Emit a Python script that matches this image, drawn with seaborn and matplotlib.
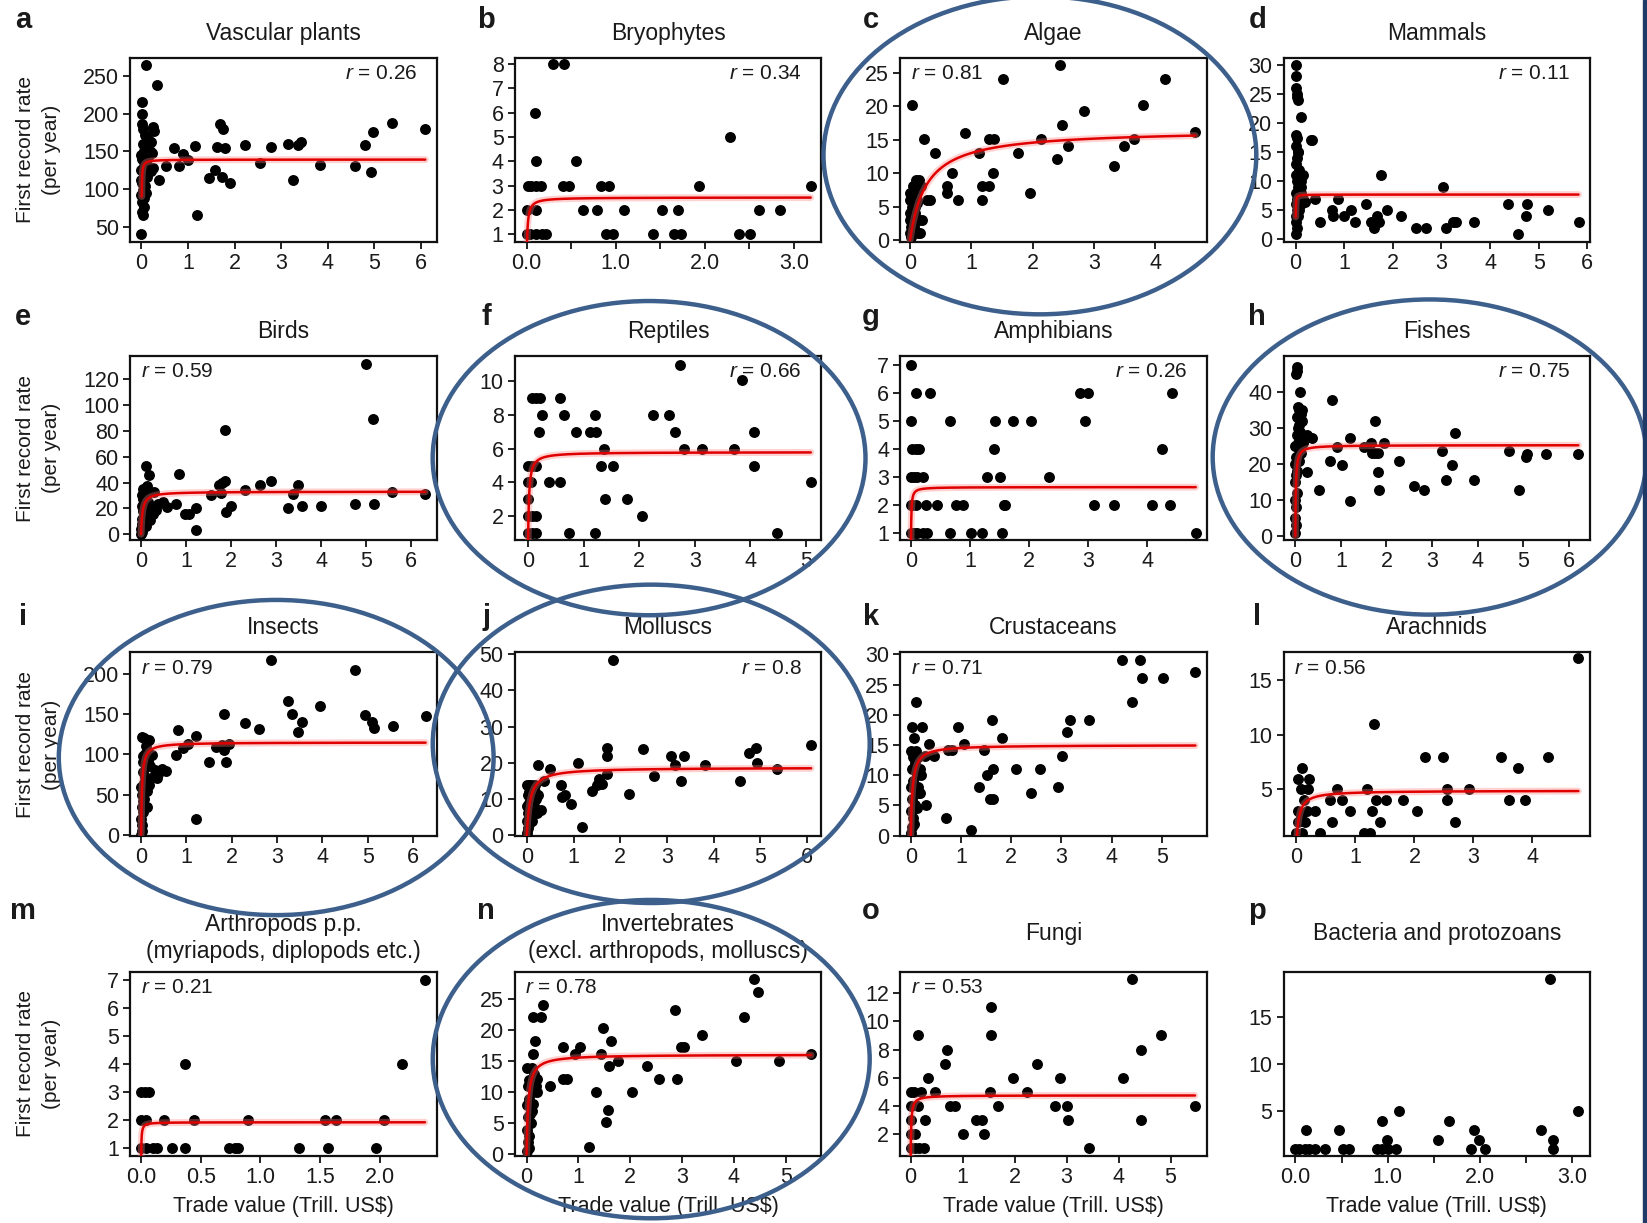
import numpy as np
import pandas as pd
import matplotlib
matplotlib.use('Agg')
import matplotlib.pyplot as plt
from matplotlib.patches import Ellipse, Rectangle
import seaborn as sns

# ---- data (trade value, first record rate) ----
a_pts = [(0.10,264),(0.33,238),(0.02,216),(0.02,200),(0.01,186),(0.04,180),(0.25,182),(0.28,177),(0.08,172),(0.14,166),
         (0.20,162),(0.03,160),(0.10,156),(0.06,150),(0.22,148),(0.15,143),(0.02,140),(0.10,136),(0.25,128),(0.20,124),
         (0.05,120),(0.12,116),(0.38,112),(0.02,108),(0.08,104),(0.03,98),(0.00,92),(0.06,88),(0.02,82),(0.05,76),
         (0.01,70),(0.04,66),(0.00,40),(0.15,130),(0.18,150),(0.05,130),(0.00,145),(0.00,125),(0.00,112),(0.09,95),
         (0.53,131),(0.70,154),(0.80,131),(0.89,147),(1.00,138),(1.15,157),(1.20,66),(1.45,114),(1.58,125),(1.62,156),
         (1.69,186),(1.75,180),(1.74,116),(1.79,154),(1.91,108),(2.22,158),(2.54,134),(2.79,156),(3.15,160),(3.25,112),
         (3.37,158),(3.43,162),(3.84,132),(4.58,131),(4.80,158),(4.94,123),(4.98,175),(5.38,188),(6.10,180)]
b_pts = [(0.29,8),(0.42,8),(0.09,6),(0.10,4),(0.55,4),(0.02,3),(0.05,3),(0.11,3),(0.16,3),(0.41,3),(0.48,3),(0.84,3),
         (0.92,3),(1.94,3),(3.19,3),(2.28,5),(0.00,2),(0.10,2),(0.63,2),(0.79,2),(1.09,2),(1.52,2),(1.70,2),(2.61,2),
         (2.85,2),(0.00,1),(0.04,1),(0.10,1),(0.17,1),(0.22,1),(0.89,1),(0.97,1),(1.42,1),(1.66,1),(1.73,1),(2.38,1),(2.51,1)]
c_pts = [(0.03,20.1),(1.52,24.1),(2.45,26.1),(4.16,24.1),(3.80,20.1),(2.83,19.2),(2.47,17.1),(0.89,16),(0.22,15.1),
         (1.29,15.1),(1.37,15.1),(2.13,15.1),(3.65,15.1),(4.65,16.1),(3.48,14),(2.58,14),(0.41,13),(1.12,13),(1.76,13),
         (2.40,12.1),(3.33,11.1),(0.68,10),(1.35,10),(0.61,8.1),(0.60,7),(1.18,8.1),(1.29,8.1),(0.78,6),(1.18,6),(0.28,6),
         (0.32,6),(1.95,7),(0.00,1),(0.02,2),(0.05,3),(0.10,3),(0.15,3),(0.00,4),(0.03,5),(0.08,5),(0.12,6),(0.00,6),
         (0.05,7),(0.10,7),(0.15,8),(0.10,9),(0.15,9),(0.18,8),(0.13,1),(0.16,1),(0.20,3),(0.02,0.5),(0.08,4),(0.12,5.5),
         (0.00,7),(0.04,8),(0.00,3),(0.06,2)]
d_pts = [(0.00,30),(0.00,28),(0.00,26),(0.02,25),(0.03,24.5),(0.04,24),(0.10,21),(0.00,18),(0.03,17.5),(0.00,16),
         (0.05,15),(0.02,14),(0.00,13),(0.06,12),(0.00,11),(0.08,11),(0.02,10),(0.05,9),(0.00,8),(0.10,8),(0.03,7),
         (0.00,6),(0.07,6),(0.02,5),(0.00,4),(0.05,4),(0.00,3),(0.03,2),(0.00,1),(0.10,10),(0.12,9),(0.04,15),(0.07,5),
         (0.12,6),(0.15,7),(0.20,6.5),(0.31,17),(0.33,17),(0.15,11),(0.40,7),(0.50,3),(0.74,5),(0.87,7),(0.77,4),
         (0.99,4),(1.14,5),(1.22,3),(1.44,6),(1.56,3),(1.61,2),(1.68,4),(1.72,3),(1.76,11),(1.87,5),(2.17,4),(2.47,2),
         (2.68,2),(3.03,9),(3.10,2),(3.24,3),(3.30,3),(3.67,3),(4.37,6),(4.58,1),(4.74,4),(4.76,6),(5.19,5),(5.82,3)]
e_pts = [(4.99,132),(5.14,89),(1.86,81),(0.10,53),(0.17,46),(0.84,47),(0.29,33),(0.78,23),(0.98,16),(1.07,16),
         (1.22,20),(1.21,3),(1.56,30),(1.72,38),(1.79,40),(1.86,41),(1.77,32),(1.88,17),(2.00,22),(2.30,34),(2.63,38),
         (2.88,41),(3.26,20),(3.37,31),(3.49,38),(3.57,22),(4.00,22),(4.76,23),(5.17,23),(5.58,33),(6.31,31),
         (0.37,23),(0.49,25),(0.58,21),(0.26,16),(0.20,11),(0.33,19),(0.00,0),(0.02,2),(0.05,5),(0.01,8),(0.03,12),
         (0.08,10),(0.10,15),(0.05,18),(0.02,22),(0.12,20),(0.15,25),(0.08,28),(0.03,30),(0.10,33),(0.05,35),(0.13,37),
         (0.20,22),(0.18,14),(0.25,18),(0.07,25),(0.00,4),(0.12,6),(0.04,27)]
f_pts = [(2.74,11),(3.85,10.1),(0.08,9),(0.14,9),(0.22,9),(0.57,9),(0.26,8),(0.64,8),(1.21,8),(2.25,8),(2.53,8),
         (0.19,7),(0.87,7),(1.11,7),(1.23,7),(2.64,7),(4.06,7),(1.37,6),(2.80,6),(3.13,6),(3.71,6),(1.32,5),(1.53,5),
         (4.06,5),(0.00,5),(0.08,5),(0.14,5),(0.00,4),(0.05,4),(0.38,4),(0.57,4),(5.09,4),(0.00,3),(1.39,3),(1.79,3),
         (0.00,2),(0.08,2),(0.14,2),(2.05,2),(0.00,1),(0.08,1),(0.14,1),(0.73,1),(1.20,1),(4.48,1)]
g_pts = [(0.00,7),(0.09,6),(0.33,6),(2.87,6),(3.00,6),(4.42,6),(0.00,5),(0.67,5),(1.42,5),(1.73,5),(2.04,5),(2.95,5),
         (0.02,4),(0.08,4),(0.13,4),(1.40,4),(4.25,4),(0.00,3),(0.05,3),(0.10,3),(0.20,3),(1.29,3),(1.51,3),(2.33,3),
         (0.00,2),(0.02,2),(0.08,2),(0.26,2),(0.44,2),(0.76,2),(0.88,2),(1.57,2),(1.59,2),(3.10,2),(3.44,2),(4.08,2),
         (4.39,2),(0.00,1),(0.05,1),(0.10,1),(0.20,1),(0.28,1),(0.67,1),(1.02,1),(1.20,1),(1.54,1),(4.82,1)]
h_pts = [(0.03,47),(0.03,46),(0.02,45),(0.11,40),(0.05,36),(0.08,35),(0.12,34),(0.03,33),(0.15,32),(0.06,30),
         (0.10,29),(0.03,28),(0.13,28),(0.18,27),(0.05,26),(0.00,25),(0.09,24),(0.12,23),(0.02,22),(0.07,21),(0.00,20),
         (0.04,18),(0.02,17),(0.00,15),(0.03,12),(0.00,10),(0.02,8),(0.00,5),(0.01,3),(0.00,1),(0.20,27),(0.25,28),
         (0.14,35),(0.17,26),(0.08,31),(0.25,17.9),(0.37,27.4),(0.52,12.8),(0.80,37.8),(0.77,20.8),(0.92,24.9),
         (1.03,19.9),(1.20,27.3),(1.20,9.9),(1.51,24.8),(1.65,25.9),(1.74,32),(1.68,23),(1.74,23),(1.82,23),(1.82,17.9),
         (1.83,12.9),(1.95,25.9),(2.28,20.8),(2.60,14),(2.83,12.9),(3.21,23.8),(3.31,15.7),(3.43,19.9),(3.50,28.8),
         (3.92,15.7),(4.69,23.8),(4.91,12.9),(5.06,21.9),(5.09,22.8),(5.50,22.8),(6.21,22.8)]
i_pts = [(2.86,218),(4.73,205),(3.24,167),(3.95,160),(3.34,150),(3.55,140),(3.47,128),(4.94,149),(5.09,140),(5.13,133),
         (5.55,136),(6.28,148),(2.30,139),(2.61,132),(1.82,150),(0.81,131),(1.20,123),(1.66,109),(1.84,105),(1.95,113),
         (1.50,90),(1.87,90),(0.77,99),(0.92,108),(1.04,113),(1.21,19),(0.02,122),(0.17,118),(0.25,99),(0.54,79),
         (0.37,75),(0.34,70),(0.45,82),(1.78,112),(0.00,0),(0.01,5),(0.02,12),(0.00,20),(0.03,28),(0.01,35),(0.05,42),
         (0.02,50),(0.04,58),(0.06,65),(0.08,72),(0.03,78),(0.10,85),(0.05,90),(0.12,95),(0.08,100),(0.15,92),(0.20,85),
         (0.22,70),(0.18,62),(0.06,120),(0.10,110),(0.30,80),(0.14,55),(0.07,45),(0.12,35),(0.00,60),(0.04,98)]
j_pts = [(1.85,48.4),(6.09,24.9),(1.71,24),(1.71,22),(2.49,23.9),(3.08,21.9),(3.37,21.9),(3.18,19.4),(3.81,19.4),
         (4.76,22.8),(4.91,24.2),(4.94,20),(5.36,18.2),(4.56,15.1),(3.31,15.1),(2.72,16.3),(2.19,11.3),(1.71,16.8),
         (1.51,14),(1.60,14.2),(1.40,12.2),(1.09,20),(1.18,2.2),(0.94,8.5),(0.81,11),(0.73,14),(0.76,10.6),(0.49,18.2),
         (0.25,19.4),(0.30,7.1),(0.36,15),(1.55,15.5),(0.00,0.5),(0.02,2),(0.05,3),(0.00,4),(0.08,5),(0.03,6),(0.10,7),
         (0.00,8),(0.05,9),(0.12,10),(0.02,11),(0.08,12),(0.15,13),(0.00,14),(0.05,14),(0.10,14),(0.18,12),(0.20,10),
         (0.15,8),(0.22,6),(0.25,11),(0.12,4),(0.05,12),(0.18,14)]
k_pts = [(4.20,29.1),(4.57,29.1),(4.60,26.1),(5.02,26.1),(5.67,27.1),(4.41,22.1),(0.10,22.1),(0.02,18),(0.23,18),
         (0.94,18),(1.62,19.1),(3.18,19.1),(3.55,19.1),(3.11,17.2),(1.82,16.1),(0.07,16.1),(0.37,15.1),(1.07,15.1),
         (0.75,14.1),(0.83,14.1),(1.45,14.1),(0.47,13.1),(0.28,13.1),(3.02,13.1),(1.51,10.1),(1.64,11),(2.09,11),
         (2.58,11),(1.36,8),(2.93,8),(2.40,7.1),(0.16,7.1),(0.19,7.1),(1.57,6.1),(1.64,6.1),(0.30,5),(0.70,3),(1.20,1),
         (0.00,0.5),(0.02,1.5),(0.05,3),(0.00,4),(0.08,5),(0.03,6),(0.10,7),(0.00,8),(0.05,9),(0.12,10),(0.02,11),
         (0.08,12),(0.15,13),(0.00,14),(0.05,13),(0.10,14),(0.18,11),(0.20,10),(0.15,8),(0.06,2),(0.12,4.5)]
l_pts = [(4.78,17),(1.31,11),(2.18,8),(2.49,8),(3.47,8),(4.27,8),(3.76,7),(0.09,7),(0.03,6),(0.22,6),(0.07,5),
         (0.20,5),(0.69,5),(1.19,5),(2.55,5),(2.92,5),(0.57,4),(0.78,4),(1.35,4),(1.52,4),(1.80,4),(2.55,4),(3.61,4),
         (3.87,4),(0.03,3),(0.31,3),(0.91,3),(1.28,3),(2.04,3),(0.03,2),(0.15,2),(0.60,2),(1.42,2),(2.68,2),(0.00,1),
         (0.09,1),(0.40,1),(1.15,1),(1.24,1),(0.12,4),(0.18,3),(0.08,2.6)]
m_pts = [(2.38,7),(2.19,4),(0.37,4),(0.00,3),(0.03,3),(0.07,3),(0.00,2),(0.04,2),(0.19,2),(0.44,2),(0.90,2),(1.54,2),
         (1.63,2),(2.04,2),(0.00,1),(0.04,1),(0.10,1),(0.13,1),(0.26,1),(0.37,1),(0.74,1),(0.79,1),(0.81,1),(1.32,1),
         (1.57,1),(1.97,1)]
n_pts = [(4.39,28.2),(4.47,26.2),(4.20,22.1),(2.87,23.2),(3.39,19.2),(2.98,17.3),(3.04,17.3),(4.05,15.1),(4.88,15.1),
         (5.49,16.2),(0.32,24.1),(0.12,22.1),(0.27,22.1),(0.17,18.2),(0.12,16.2),(0.70,17.3),(1.03,17.3),(0.93,16.2),
         (1.47,20.3),(1.62,18.2),(1.44,16.2),(1.77,15.1),(1.59,14.2),(2.33,14.2),(2.55,12.2),(2.90,12.2),(0.70,12.2),
         (0.78,12.2),(0.20,12.2),(0.46,11.1),(1.34,10.1),(2.04,10.1),(1.57,7.1),(1.54,5.3),(1.20,1.2),(0.12,8.2),
         (0.00,0.5),(0.02,2),(0.05,3),(0.00,4),(0.08,5),(0.03,6),(0.10,7),(0.00,8),(0.05,9),(0.12,10),(0.02,11),
         (0.08,12),(0.15,13),(0.00,14),(0.05,12),(0.10,14),(0.18,11),(0.20,10),(0.06,6.5),(0.04,1)]
o_pts = [(4.26,13),(1.55,11),(1.55,9),(0.14,9),(4.82,9),(0.69,8),(4.44,8),(0.66,7),(2.44,7),(0.34,6),(1.97,6),(2.88,6),
         (4.09,6),(0.00,5),(0.07,5),(0.20,5),(0.47,5),(1.53,5),(2.24,5),(0.00,4),(0.15,4),(0.76,4),(0.86,4),(1.69,4),
         (2.77,4),(3.00,4),(5.47,4),(0.00,3),(0.27,3),(1.26,3),(1.38,3),(3.02,3),(4.44,3),(0.00,2),(0.09,2),(1.01,2),
         (1.41,2),(0.00,1),(0.09,1),(0.17,1),(0.25,1),(3.43,1)]
p_pts = [(2.76,19),(3.07,5),(1.12,5),(0.94,4),(1.67,4),(0.11,3),(0.47,3),(1.94,3),(2.67,3),(0.99,2),(1.55,2),(1.99,2),
         (2.80,2),(0.00,1),(0.04,1),(0.10,1),(0.15,1),(0.21,1),(0.32,1),(0.52,1),(0.58,1),(0.89,1),(0.94,1),(1.00,1),
         (1.09,1),(1.91,1),(2.06,1),(2.80,1)]

panels = [a_pts, b_pts, c_pts, d_pts, e_pts, f_pts, g_pts, h_pts,
          i_pts, j_pts, k_pts, l_pts, m_pts, n_pts, o_pts, p_pts]
letters = list('abcdefghijklmnop')
titles = ['Vascular plants', 'Bryophytes', 'Algae', 'Mammals',
          'Birds', 'Reptiles', 'Amphibians', 'Fishes',
          'Insects', 'Molluscs', 'Crustaceans', 'Arachnids',
          'Arthropods p.p.\n(myriapods, diplopods etc.)',
          'Invertebrates\n(excl. arthropods, molluscs)',
          'Fungi', 'Bacteria and protozoans']
r_values = ['0.26', '0.34', '0.81', '0.11', '0.59', '0.66', '0.26', '0.75',
            '0.79', '0.8', '0.71', '0.56', '0.21', '0.78', '0.53', None]
r_side = ['right', 'right', 'left', 'right', 'left', 'right', 'right', 'right',
          'left', 'right', 'left', 'left', 'left', 'left', 'left', None]

# saturating fit y = top * x / (half + x)
fit_top = [139, 2.52, 16.5, 7.7, 33, 5.8, 2.63, 25.3, 115, 18.7, 15.0, 4.9, 1.93, 16.1, 4.75, None]
fit_half = [0.003, 0.0096, 0.27, 0.002, 0.03, 0.016, 0.005, 0.011, 0.019, 0.069, 0.034, 0.043, 0.002, 0.032, 0.0098, None]
fit_x0 = [0.0055, 0.003, 0, 0.002, 0, 0, 0.001, 0, 0, 0, 0, 0, 0.001, 0, 0, None]

xticks = [range(7), [0, 0.5, 1, 1.5, 2, 2.5, 3], range(5), range(7),
          range(7), range(6), range(5), range(7),
          range(7), range(7), range(6), range(5),
          [0, 0.5, 1, 1.5, 2], range(6), range(6), [0, 0.5, 1, 1.5, 2, 2.5, 3]]
yticks = [range(50, 251, 50), range(1, 9), range(0, 26, 5), range(0, 31, 5),
          range(0, 121, 20), range(2, 11, 2), range(1, 8), range(0, 41, 10),
          range(0, 201, 50), range(0, 51, 10), range(0, 31, 5), [5, 10, 15],
          range(1, 8), range(0, 26, 5), range(2, 13, 2), [5, 10, 15]]
xlims = [(-0.24, 6.35), (-0.135, 3.31), (-0.16, 4.84), (-0.25, 6.06),
         (-0.24, 6.57), (-0.24, 5.28), (-0.18, 5.01), (-0.26, 6.47),
         (-0.24, 6.53), (-0.26, 6.31), (-0.21, 5.9), (-0.22, 4.98),
         (-0.09, 2.48), (-0.23, 5.69), (-0.2, 5.7), (-0.13, 3.2)]
ylims = [(30, 274), (0.7, 8.26), (-0.25, 27.2), (-0.4, 31.2),
         (-4.6, 138), (0.57, 11.5), (0.73, 7.32), (-1.1, 50),
         (-2, 227), (-0.3, 50.5), (-0.1, 30.3), (0.73, 17.5),
         (0.74, 7.27), (-0.2, 29.4), (0.47, 13.5), (0.3, 19.8)]

# ---- style ----
sns.set_style('ticks')
plt.rcParams['font.family'] = ['Liberation Sans', 'DejaVu Sans']
plt.rcParams['mathtext.fontset'] = 'custom'
plt.rcParams['mathtext.it'] = 'Liberation Sans:italic'
plt.rcParams['mathtext.rm'] = 'Liberation Sans'

fig = plt.figure(figsize=(16.47, 12.23), dpi=100)
fig.patch.set_facecolor('white')

col_left = [0.0791, 0.3125, 0.5466, 0.7793]
row_bottom = [0.8024, 0.5584, 0.3162, 0.0550]
ax_w, ax_h = 0.1862, 0.1503
letter_x = [0.0140, 0.2953, 0.5287, 0.7634]
letter_y = [0.9840, 0.7410, 0.4955, 0.2550]
txt = '#1a1a1a'

for k, pts in enumerate(panels):
    row, col = divmod(k, 4)
    ax = fig.add_axes([col_left[col], row_bottom[row], ax_w, ax_h])
    df = pd.DataFrame(pts, columns=['trade', 'rate'])
    sns.scatterplot(data=df, x='trade', y='rate', ax=ax, color='black',
                    s=62, linewidth=0, zorder=3)

    if fit_top[k] is not None:
        t = np.linspace(0, 1, 800) ** 3
        xs = fit_x0[k] + (df['trade'].max() - fit_x0[k]) * t
        ys = fit_top[k] * xs / (fit_half[k] + xs)
        ax.plot(xs, ys, color='#ff8080', lw=5, alpha=0.35, zorder=4)
        ax.plot(xs, ys, color='#e00000', lw=1.8, zorder=5)

    ax.set_xlim(*xlims[k])
    ax.set_ylim(*ylims[k])
    ax.set_xticks(list(xticks[k]))
    if k in (1, 15):
        ax.set_xticklabels(['0.0', '', '1.0', '', '2.0', '', '3.0'])
    elif k == 12:
        ax.set_xticklabels(['0.0', '0.5', '1.0', '1.5', '2.0'])
    ax.set_yticks(list(yticks[k]))
    ax.set_xlabel('')
    ax.set_ylabel('')
    for sp in ax.spines.values():
        sp.set_visible(True)
        sp.set_linewidth(1.6)
        sp.set_color('#111111')
    ax.tick_params(direction='out', length=5, width=1.3, labelsize=15.5,
                   pad=3, colors='#111111', labelcolor=txt)

    if k in (14, 15):
        title_pad = 23
    elif k in (12, 13):
        title_pad = 10
    else:
        title_pad = 13
    ax.set_title(titles[k], fontsize=16.5, pad=title_pad, color=txt, linespacing=1.25)

    if r_values[k] is not None:
        if r_side[k] == 'left':
            ax.text(0.035, 0.915, r'$r$ = ' + r_values[k], transform=ax.transAxes,
                    ha='left', va='center', fontsize=15, color=txt, zorder=6)
        else:
            ax.text(0.935, 0.915, r'$r$ = ' + r_values[k], transform=ax.transAxes,
                    ha='right', va='center', fontsize=15, color=txt, zorder=6)

    fig.text(letter_x[col], letter_y[row], letters[k], fontsize=21,
             fontweight='bold', ha='center', va='center', color=txt)

    if col == 0:
        fig.text(0.0236, row_bottom[row] + ax_h / 2, 'First record rate\n(per year)',
                 rotation=90, ha='center', va='center', fontsize=15,
                 linespacing=1.45, color=txt)
    if row == 3:
        fig.text(col_left[col] + ax_w / 2, 0.0137, 'Trade value (Trill. US$)',
                 ha='center', va='center', fontsize=15.5, color=txt)

# blue hand-drawn highlight ellipses (figure fractions)
ell_specs = [(0.6314, 0.8730, 0.2628, 0.2600),
             (0.3941, 0.6254, 0.2628, 0.2569),
             (0.8680, 0.6263, 0.2634, 0.2577),
             (0.1677, 0.3806, 0.2640, 0.2577),
             (0.3954, 0.3918, 0.2653, 0.2603),
             (0.3954, 0.1340, 0.2653, 0.2603)]
for cx, cy, w, h in ell_specs:
    fig.add_artist(Ellipse((cx, cy), w, h, transform=fig.transFigure,
                           fill=False, ec='#3d5f8c', lw=3.2, zorder=20))

# dark strip along the right edge of the screenshot
fig.add_artist(Rectangle((1643 / 1647, 0), 4 / 1647, 1, transform=fig.transFigure,
                         color='#1f3a66', zorder=21))

fig.savefig('out.png', dpi=100)
